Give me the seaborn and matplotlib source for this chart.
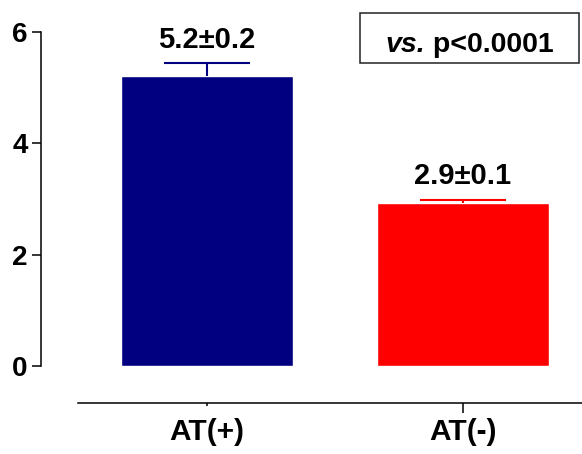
import numpy as np
import pandas as pd
import matplotlib
matplotlib.use('Agg')
import matplotlib.pyplot as plt
import seaborn as sns
from matplotlib.patches import Rectangle

# data
groups = ['AT(+)', 'AT(-)']
means = [5.21, 2.92]
sems = [0.23, 0.07]
labels = ['5.2\u00b10.2', '2.9\u00b10.1']
colors = ['#000080', '#FF0000']
stat_prefix = 'vs.'
stat_text = ' p<0.0001'

sns.set_style('ticks')
plt.rcParams['font.family'] = ['Liberation Sans', 'DejaVu Sans']
plt.rcParams['font.weight'] = 'bold'
plt.rcParams['text.color'] = 'black'

fig = plt.figure(figsize=(5.82, 4.54), dpi=100)
ax = fig.add_axes([41 / 582, 51 / 454, 541 / 582, 393 / 454])

df = pd.DataFrame({'group': groups, 'value': means})
sns.barplot(data=df, x='group', y='value', hue='group', palette=colors,
            width=0.672, errorbar=None, legend=False, saturation=1, ax=ax)

for i, (m, e, c) in enumerate(zip(means, sems, colors)):
    _, caps, _ = ax.errorbar(i, m, yerr=[[0], [e]], fmt='none', ecolor=c,
                             elinewidth=1.5, capsize=31, capthick=1.5)
    # keep only the upper cap
    for cap in caps:
        if cap.get_ydata()[0] <= m:
            cap.set_visible(False)
    ax.annotate(labels[i], xy=(i, m + e), xytext=(0, 11), textcoords='offset points',
                ha='center', va='baseline', fontsize=21, fontweight='bold',
                color='black')

ax.set_xlim(-0.648, 1.465)
ax.set_ylim(-0.665, 6.395)
ax.set_yticks([0, 2, 4, 6])
ax.set_xlabel('')
ax.set_ylabel('')

sns.despine(ax=ax)
ax.spines['left'].set_bounds(0, 6)
ax.spines['bottom'].set_bounds(-0.504, 1.465)
for s in ('left', 'bottom'):
    ax.spines[s].set_linewidth(1.1)
    ax.spines[s].set_color('black')

ax.tick_params(axis='y', direction='out', length=6.5, width=1.1, pad=3,
               labelsize=20, colors='black')
ax.tick_params(axis='x', direction='out', length=7, width=1.1, pad=3.5,
               labelsize=21.5, colors='black')
for lab in ax.get_xticklabels() + ax.get_yticklabels():
    lab.set_fontweight('bold')
# first x tick is drawn short in the reference
ax.xaxis.get_major_ticks()[0].tick1line.set_markersize(2.2)

# stats box
fig.patches.append(Rectangle((360 / 582, 1 - 63 / 454), 219 / 582, 50 / 454,
                             transform=fig.transFigure, fill=False,
                             edgecolor='#222222', linewidth=1.1))
t1 = fig.text(385 / 582, 1 - 52 / 454, stat_prefix, fontsize=20.5, fontweight='bold',
              fontstyle='italic', ha='left', va='baseline', color='black')
ax.annotate(stat_text, xy=(1, 0), xycoords=t1, ha='left', va='bottom',
            fontsize=20.5, fontweight='bold', color='black', annotation_clip=False)

fig.savefig('out.png', dpi=100)
